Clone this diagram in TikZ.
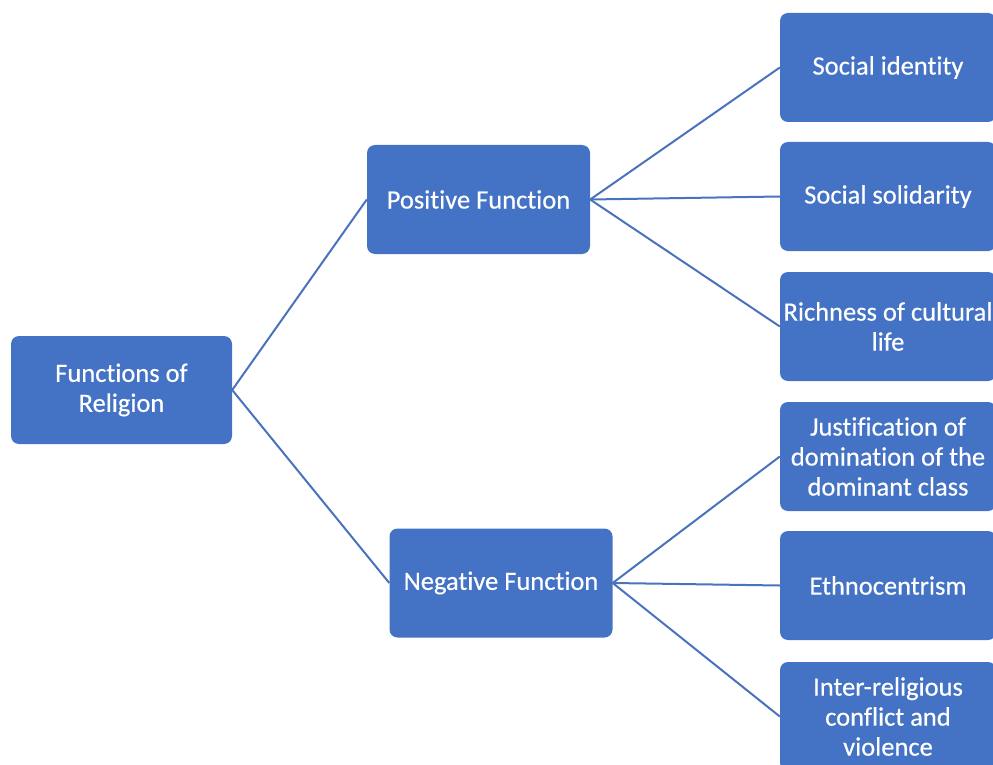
\documentclass[tikz,border=0pt]{standalone}
\usepackage{fontspec}
\setmainfont[Ligatures={NoCommon},FakeBold=0.4]{Carlito}
\definecolor{boxblue}{HTML}{4472C4}
\definecolor{linkblue}{HTML}{4A72BD}
\begin{document}
\begin{tikzpicture}[x=1pt,y=-1pt,
  box/.style={fill=boxblue, rounded corners=8pt, inner sep=0pt},
  rootbox/.style={box, minimum width=221pt, minimum height=108pt},
  midbox/.style={box, minimum width=223pt, minimum height=109pt},
  leafbox/.style={box, minimum width=216pt, minimum height=109pt},
  boxtext/.style={text=white, align=center, inner sep=0pt,
    font=\fontsize{26.5}{30}\selectfont},
  link/.style={draw=linkblue, line width=2pt}]
\useasboundingbox (0,0) rectangle (993,765);
\clip (0,0) rectangle (993,765);

% boxes
\node[rootbox] (root) at (121.5,390) {};
\node[midbox] (pos) at (478.5,199.5) {};
\node[midbox] (neg) at (501,583) {};
\node[leafbox] (l1) at (888,67.5) {};
\node[leafbox] (l2) at (888,196.5) {};
\node[leafbox] (l3) at (888,326.5) {};
\node[leafbox] (l4) at (888,456.5) {};
\node[leafbox] (l5) at (888,585.5) {};
\node[leafbox] (l6) at (888,716.5) {};

% captions
\node[boxtext] (roott) at (root) {Functions of\\Religion};
\node[boxtext] (post) at (pos) {Positive Function};
\node[boxtext] (negt) at (neg) {Negative Function};
\node[boxtext] (l1t) at (l1) {Social identity};
\node[boxtext] (l2t) at (l2) {Social solidarity};
\node[boxtext] (l3t) at (l3) {Richness of cultural\\life};
\node[boxtext] (l4t) at (l4) {Justification of\\domination of the\\dominant class};
\node[boxtext] (l5t) at (l5) {Ethnocentrism};
\node[boxtext] (l6t) at (l6) {Inter-religious\\conflict and\\violence};

% connectors
\draw[link] (root.east) -- (pos.west);
\draw[link] (root.east) -- (neg.west);
\foreach \n in {l1,l2,l3} \draw[link] (pos.east) -- (\n.west);
\foreach \n in {l4,l5,l6} \draw[link] (neg.east) -- (\n.west);
\end{tikzpicture}
\end{document}
